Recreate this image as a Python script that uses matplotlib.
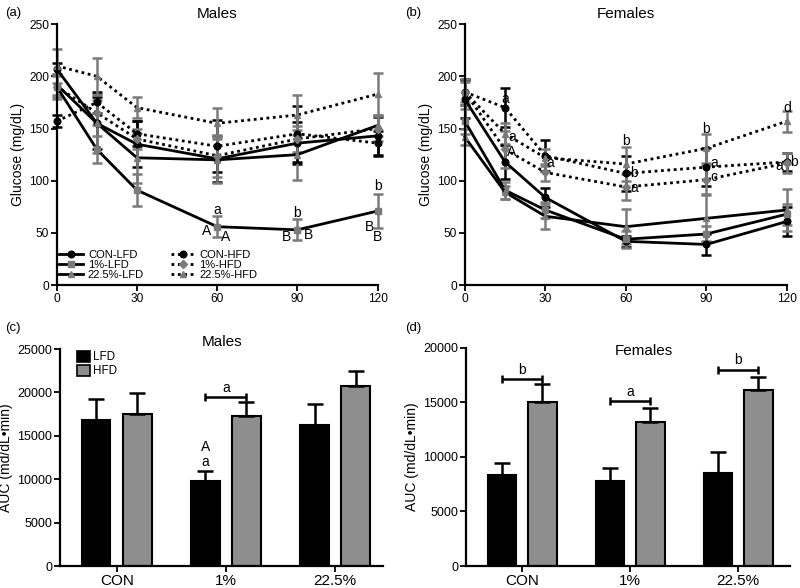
import matplotlib
matplotlib.use("Agg")
import matplotlib.pyplot as plt
from matplotlib.lines import Line2D
from matplotlib.patches import Patch
import numpy as np

plt.rcParams["font.family"] = ["Liberation Sans", "DejaVu Sans"]

GRAY = "#7a7a7a"
BAR_GRAY = "#8e8e8e"

times = [0, 15, 30, 60, 90, 120]
groups = ["CON", "1%", "22.5%"]

# males glucose (mg/dL)
m_con_lfd = [207, 155, 135, 121, 136, 143]
m_con_lfd_err = [6, 25, 22, 22, 20, 18]
m_1_lfd = [190, 130, 91, 56, 53, 71]
m_1_lfd_err = [10, 13, 15, 10, 10, 16]
m_225_lfd = [192, 155, 122, 120, 125, 153]
m_225_lfd_err = [10, 28, 24, 22, 24, 10]
m_con_hfd = [157, 175, 145, 133, 145, 136]
m_con_hfd_err = [6, 10, 12, 25, 27, 12]
m_1_hfd = [190, 165, 140, 124, 140, 150]
m_1_hfd_err = [12, 12, 10, 20, 12, 12]
m_225_hfd = [210, 200, 170, 155, 163, 183]
m_225_hfd_err = [16, 18, 10, 15, 19, 20]

# females glucose (mg/dL)
f_con_lfd = [178, 118, 84, 42, 39, 61]
f_con_lfd_err = [18, 16, 9, 5, 10, 14]
f_1_lfd = [157, 91, 72, 44, 49, 68]
f_1_lfd_err = [12, 8, 8, 8, 8, 10]
f_225_lfd = [142, 89, 66, 56, 64, 72]
f_225_lfd_err = [8, 6, 12, 17, 22, 20]
f_con_hfd = [185, 170, 124, 107, 113, 118]
f_con_hfd_err = [12, 19, 15, 17, 18, 9]
f_1_hfd = [185, 130, 108, 94, 101, 117]
f_1_hfd_err = [10, 18, 8, 12, 14, 10]
f_225_hfd = [185, 145, 122, 116, 131, 157]
f_225_hfd_err = [12, 10, 8, 16, 14, 10]

# AUC (md/dL*min)
m_auc_lfd = [16800, 9770, 16230]
m_auc_lfd_err = [2430, 1230, 2420]
m_auc_hfd = [17460, 17230, 20730]
m_auc_hfd_err = [2440, 1650, 1770]
f_auc_lfd = [8380, 7830, 8560]
f_auc_lfd_err = [1070, 1160, 1900]
f_auc_hfd = [15050, 13210, 16120]
f_auc_hfd_err = [1620, 1320, 1220]

# significance letters: (x, y, text)
m_letters = [(60, 72, "a"), (56, 52, "A"), (63, 46, "A"),
             (90, 69, "b"), (86, 46, "B"), (94, 48, "B"),
             (120, 95, "b"), (117, 56, "B"), (120, 46, "B")]
f_letters = [(15, 178, "a"), (17.5, 142, "a"), (17.5, 128, "A"), (32, 117, "a"),
             (60, 138, "b"), (63, 107, "b"), (63, 93, "a"),
             (90, 150, "b"), (93, 117, "a"), (93, 104, "c"),
             (120, 170, "d"), (122.5, 118, "b"), (117, 114, "a")]
m_brackets = [(1, 19500, "a")]
f_brackets = [(0, 17160, "b"), (1, 15140, "a"), (2, 18010, "b")]

DOT = (0, (1, 1.3))
series_style = [
    ("CON-LFD", "-", "o", "black", 4.8),
    ("1%-LFD", "-", "s", GRAY, 4.8),
    ("22.5%-LFD", "-", "^", GRAY, 4.8),
    ("CON-HFD", DOT, "o", "black", 4.8),
    ("1%-HFD", DOT, "D", GRAY, 3.8),
    ("22.5%-HFD", DOT, "^", GRAY, 4.8),
]


def style_axes(ax, labelsize):
    for side in ("top", "right"):
        ax.spines[side].set_visible(False)
    for side in ("left", "bottom"):
        ax.spines[side].set_linewidth(1.6)
    ax.tick_params(direction="out", length=4, width=1.3, labelsize=labelsize, pad=1.5)


def plot_gtt(ax, series, letters, title):
    for (label, ls, mk, col, ms), (vals, errs) in zip(series_style, series):
        ax.errorbar(times, vals, yerr=errs, color="black", ls=ls, lw=2,
                    marker=mk, ms=ms, mfc=col, mec=col, ecolor=col,
                    elinewidth=1.8, capsize=3.5, capthick=1.8, clip_on=False)
    for x, y, t in letters:
        ax.text(x, y, t, ha="center", va="center", fontsize=10)
    ax.set_xlim(0, 120)
    ax.set_ylim(0, 250)
    ax.set_xticks([0, 30, 60, 90, 120])
    ax.set_yticks([0, 50, 100, 150, 200, 250])
    ax.set_ylabel("Glucose (mg/dL)", fontsize=10, labelpad=3)
    ax.text(0.5, 1.012, title, transform=ax.transAxes, ha="center",
            va="bottom", fontsize=11)
    style_axes(ax, 8.6)


def plot_auc(ax, lfd, lfd_err, hfd, hfd_err, brackets, title, ymax, title_y, title_x):
    x = np.arange(len(groups))
    off = 0.188
    w = 0.26
    ekw = dict(ecolor="black", elinewidth=1.8, capsize=6, capthick=1.8)
    ax.bar(x - off, lfd, w, color="black", edgecolor="black", lw=1.5,
           yerr=[np.zeros(3), lfd_err], error_kw=ekw, label="LFD")
    ax.bar(x + off, hfd, w, color=BAR_GRAY, edgecolor="black", lw=1.5,
           yerr=[np.zeros(3), hfd_err], error_kw=ekw, label="HFD")
    for i, y, t in brackets:
        ax.errorbar(x[i], y, xerr=off, color="black", lw=1.8, capsize=3, capthick=1.8)
        ax.text(x[i], y + ymax * 0.01, t, ha="center", va="bottom", fontsize=10)
    ax.set_xticks(x)
    ax.set_xticklabels(groups)
    ax.set_ylim(0, ymax)
    ax.set_ylabel("AUC (md/dL\u2022min)", fontsize=10, labelpad=3)
    ax.text(title_x, title_y, title, transform=ax.transAxes, ha="center",
            va="bottom", fontsize=11)
    style_axes(ax, 9)
    ax.tick_params(axis="x", labelsize=11)
    return x, off


fig = plt.figure(figsize=(8, 5.88), dpi=100)
ax_a = fig.add_axes([0.071, 0.515, 0.401, 0.444])
ax_b = fig.add_axes([0.581, 0.515, 0.4025, 0.444])
ax_c = fig.add_axes([0.075, 0.0374, 0.404, 0.369])
ax_d = fig.add_axes([0.5825, 0.0374, 0.405, 0.371])

plot_gtt(ax_a, [(m_con_lfd, m_con_lfd_err), (m_1_lfd, m_1_lfd_err), (m_225_lfd, m_225_lfd_err),
                (m_con_hfd, m_con_hfd_err), (m_1_hfd, m_1_hfd_err), (m_225_hfd, m_225_hfd_err)],
         m_letters, "Males")
plot_gtt(ax_b, [(f_con_lfd, f_con_lfd_err), (f_1_lfd, f_1_lfd_err), (f_225_lfd, f_225_lfd_err),
                (f_con_hfd, f_con_hfd_err), (f_1_hfd, f_1_hfd_err), (f_225_hfd, f_225_hfd_err)],
         f_letters, "Females")

handles = [Line2D([], [], color="black", ls=ls, lw=2, marker=mk, ms=ms, mfc=c, mec=c)
           for _, ls, mk, c, ms in series_style]
labels = [s[0] for s in series_style]
ax_a.legend(handles, labels, ncol=2, loc="lower left", bbox_to_anchor=(0.0, 0.01),
            frameon=False, fontsize=8.0, handlelength=2.2, handletextpad=0.4,
            labelspacing=0.0, columnspacing=2.4, borderaxespad=0.0, borderpad=0.2)

xc, off = plot_auc(ax_c, m_auc_lfd, m_auc_lfd_err, m_auc_hfd, m_auc_hfd_err, m_brackets,
                   "Males", 25000, 1.0, 0.5)
ax_c.set_xlim(-0.52, 2.44)
ax_c.set_yticks([0, 5000, 10000, 15000, 20000, 25000])
top_1 = m_auc_lfd[1] + m_auc_lfd_err[1]
ax_c.text(xc[1] - off, top_1 + 2700, "A", ha="center", va="center", fontsize=10)
ax_c.text(xc[1] - off, top_1 + 1000, "a", ha="center", va="center", fontsize=10)
bar_handles = [Patch(facecolor="black", edgecolor="black", lw=1.2),
               Patch(facecolor=BAR_GRAY, edgecolor="black", lw=1.2)]
ax_c.legend(bar_handles, ["LFD", "HFD"], loc="upper left", bbox_to_anchor=(0.02, 1.04),
            frameon=False, fontsize=8.4, handlelength=1.1, handleheight=1.1,
            handletextpad=0.3, labelspacing=0.1)

plot_auc(ax_d, f_auc_lfd, f_auc_lfd_err, f_auc_hfd, f_auc_hfd_err, f_brackets,
         "Females", 20000, 0.955, 0.55)
ax_d.set_xlim(-0.52, 2.48)
ax_d.set_yticks([0, 5000, 10000, 15000, 20000])

for txt, x, y in [("(a)", 0.006, 0.978), ("(b)", 0.506, 0.978),
                  ("(c)", 0.006, 0.443), ("(d)", 0.506, 0.443)]:
    fig.text(x, y, txt, fontsize=9.5, ha="left", va="center")

fig.savefig("out.png", dpi=100)
